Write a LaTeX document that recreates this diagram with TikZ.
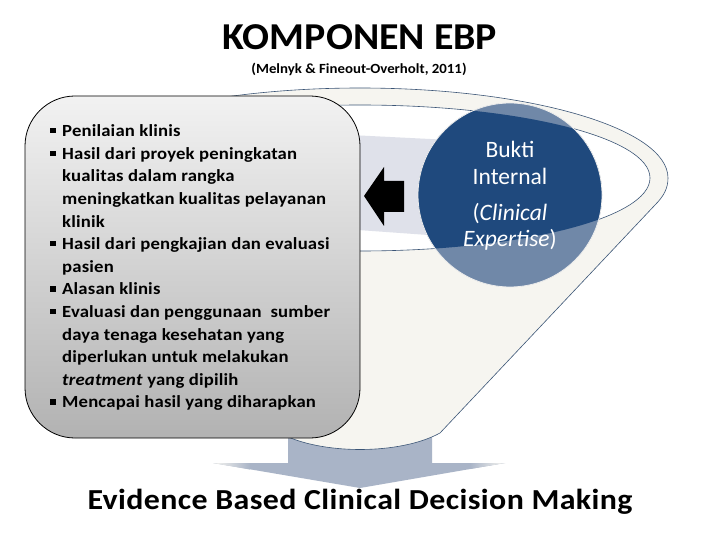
\documentclass[tikz,border=0pt]{standalone}
\usepackage{fontspec}
\setmainfont{Carlito}
\definecolor{cream}{HTML}{F6F5F0}
\definecolor{band}{HTML}{DFE1EA}
\definecolor{dblue}{HTML}{1F497D}
\definecolor{lblue}{HTML}{7088A8}
\definecolor{arrowc}{HTML}{A9B4C7}
\definecolor{lineblue}{HTML}{3B5576}
\definecolor{boxtop}{HTML}{F2F2F2}
\definecolor{boxbot}{HTML}{B2B2B2}
\newcommand{\bsq}{\makebox[0pt][r]{\rule[3.2pt]{5.5pt}{5.5pt}\hspace{6.5pt}}}
\tikzset{
  boxtext/.style={anchor=base west, inner sep=0pt, font=\fontsize{17}{20}\selectfont\bfseries\addfontfeature{FakeStretch=1.1,LetterSpace=1}},
  ctext/.style={anchor=base, inner sep=0pt, text=white, font=\fontsize{23.5}{28}\selectfont},
}
\begin{document}
\begin{tikzpicture}[x=1pt,y=-1pt]
\useasboundingbox (0,0) rectangle (720,540);
\fill[white] (0,0) rectangle (720,540);
% down arrow
\fill[arrowc] (288,425) -- (432,425) -- (432,463) -- (505,463) -- (360,488) -- (213,463) -- (288,463) -- cycle;
\shade[left color=cream, right color=arrowc] (213,463) -- (250,463) -- (250,469.5) -- cycle;
\shade[left color=arrowc, right color=cream] (470,463) -- (505,463) -- (470,469) -- cycle;
% funnel
\path[fill=cream, draw=lineblue, line width=0.6pt] (52,178) arc[start angle=180,end angle=360,x radius=308,y radius=90]
  .. controls (668,188) and (664,196) .. (655,205) -- (440,433)
  .. controls (400,455) and (320,455) .. (280,433) -- (65,205)
  .. controls (56,196) and (52,188) .. (52,178) -- cycle;
% inner ellipse
\draw[fill=white, draw=lineblue, line width=0.6pt] (360,178) ellipse[x radius=290, y radius=73];
% band
\fill[band] (330,134) -- (470,141) -- (470,238) -- (330,228) -- cycle;
% black arrow
\fill[black] (364,196) -- (384,167) -- (384,181) -- (404,181) -- (404,212) -- (384,212) -- (384,226) -- cycle;
% circle
\fill[lblue] (510,195) circle[radius=92];
\begin{scope}
  \clip (360,178) ellipse[x radius=290, y radius=73];
  \fill[dblue] (510,195) circle[radius=92];
\end{scope}
\draw[white!85!gray, line width=0.8pt] (510,195) circle[radius=92];
\node[ctext] (b1) at (510,158) {Bukti};
\node[ctext] (b2) at (510,185) {Internal};
\node[ctext] (b3) at (510,221) {(\textit{Clinical}};
\node[ctext] (b4) at (510,246) {\textit{Expertise})};
% rounded box
\shade[top color=boxtop, bottom color=boxbot, draw=black, line width=0.8pt, rounded corners=50pt] (25,96) rectangle (360,438);
\node[boxtext] (l1) at (62,136.7) {\bsq Penilaian klinis};
\node[boxtext] (l2) at (62,159.3) {\bsq Hasil dari proyek peningkatan};
\node[boxtext] (l3) at (62,181.9) {kualitas dalam rangka};
\node[boxtext] (l4) at (62,204.5) {meningkatkan kualitas pelayanan};
\node[boxtext] (l5) at (62,227.1) {klinik};
\node[boxtext] (l6) at (62,249.7) {\bsq Hasil dari pengkajian dan evaluasi};
\node[boxtext] (l7) at (62,272.3) {pasien};
\node[boxtext] (l8) at (62,294.9) {\bsq Alasan klinis};
\node[boxtext] (l9) at (62,317.5) {\bsq Evaluasi dan penggunaan\ \ sumber};
\node[boxtext] (l10) at (62,340.1) {daya tenaga kesehatan yang};
\node[boxtext] (l11) at (62,362.7) {diperlukan untuk melakukan};
\node[boxtext] (l12) at (62,385.3) {\textit{treatment} yang dipilih};
\node[boxtext] (l13) at (62,407.9) {\bsq Mencapai hasil yang diharapkan};
% titles
\node[anchor=base, inner sep=0pt, font=\fontsize{38}{44}\selectfont\bfseries\addfontfeature{FakeStretch=1.05}] (title) at (360,49.5) {KOMPONEN EBP};
\node[anchor=base, inner sep=0pt, font=\fontsize{14}{16}\selectfont\bfseries\addfontfeature{FakeStretch=1.06}] (sub) at (359,74) {(Melnyk \& Fineout-Overholt, 2011)};
\node[anchor=base, inner sep=0pt, font=\fontsize{29}{34}\selectfont\bfseries\addfontfeature{FakeStretch=1.1,LetterSpace=1.4}] (ebcdm) at (360,509.5) {Evidence Based Clinical Decision Making};
\end{tikzpicture}
\end{document}
